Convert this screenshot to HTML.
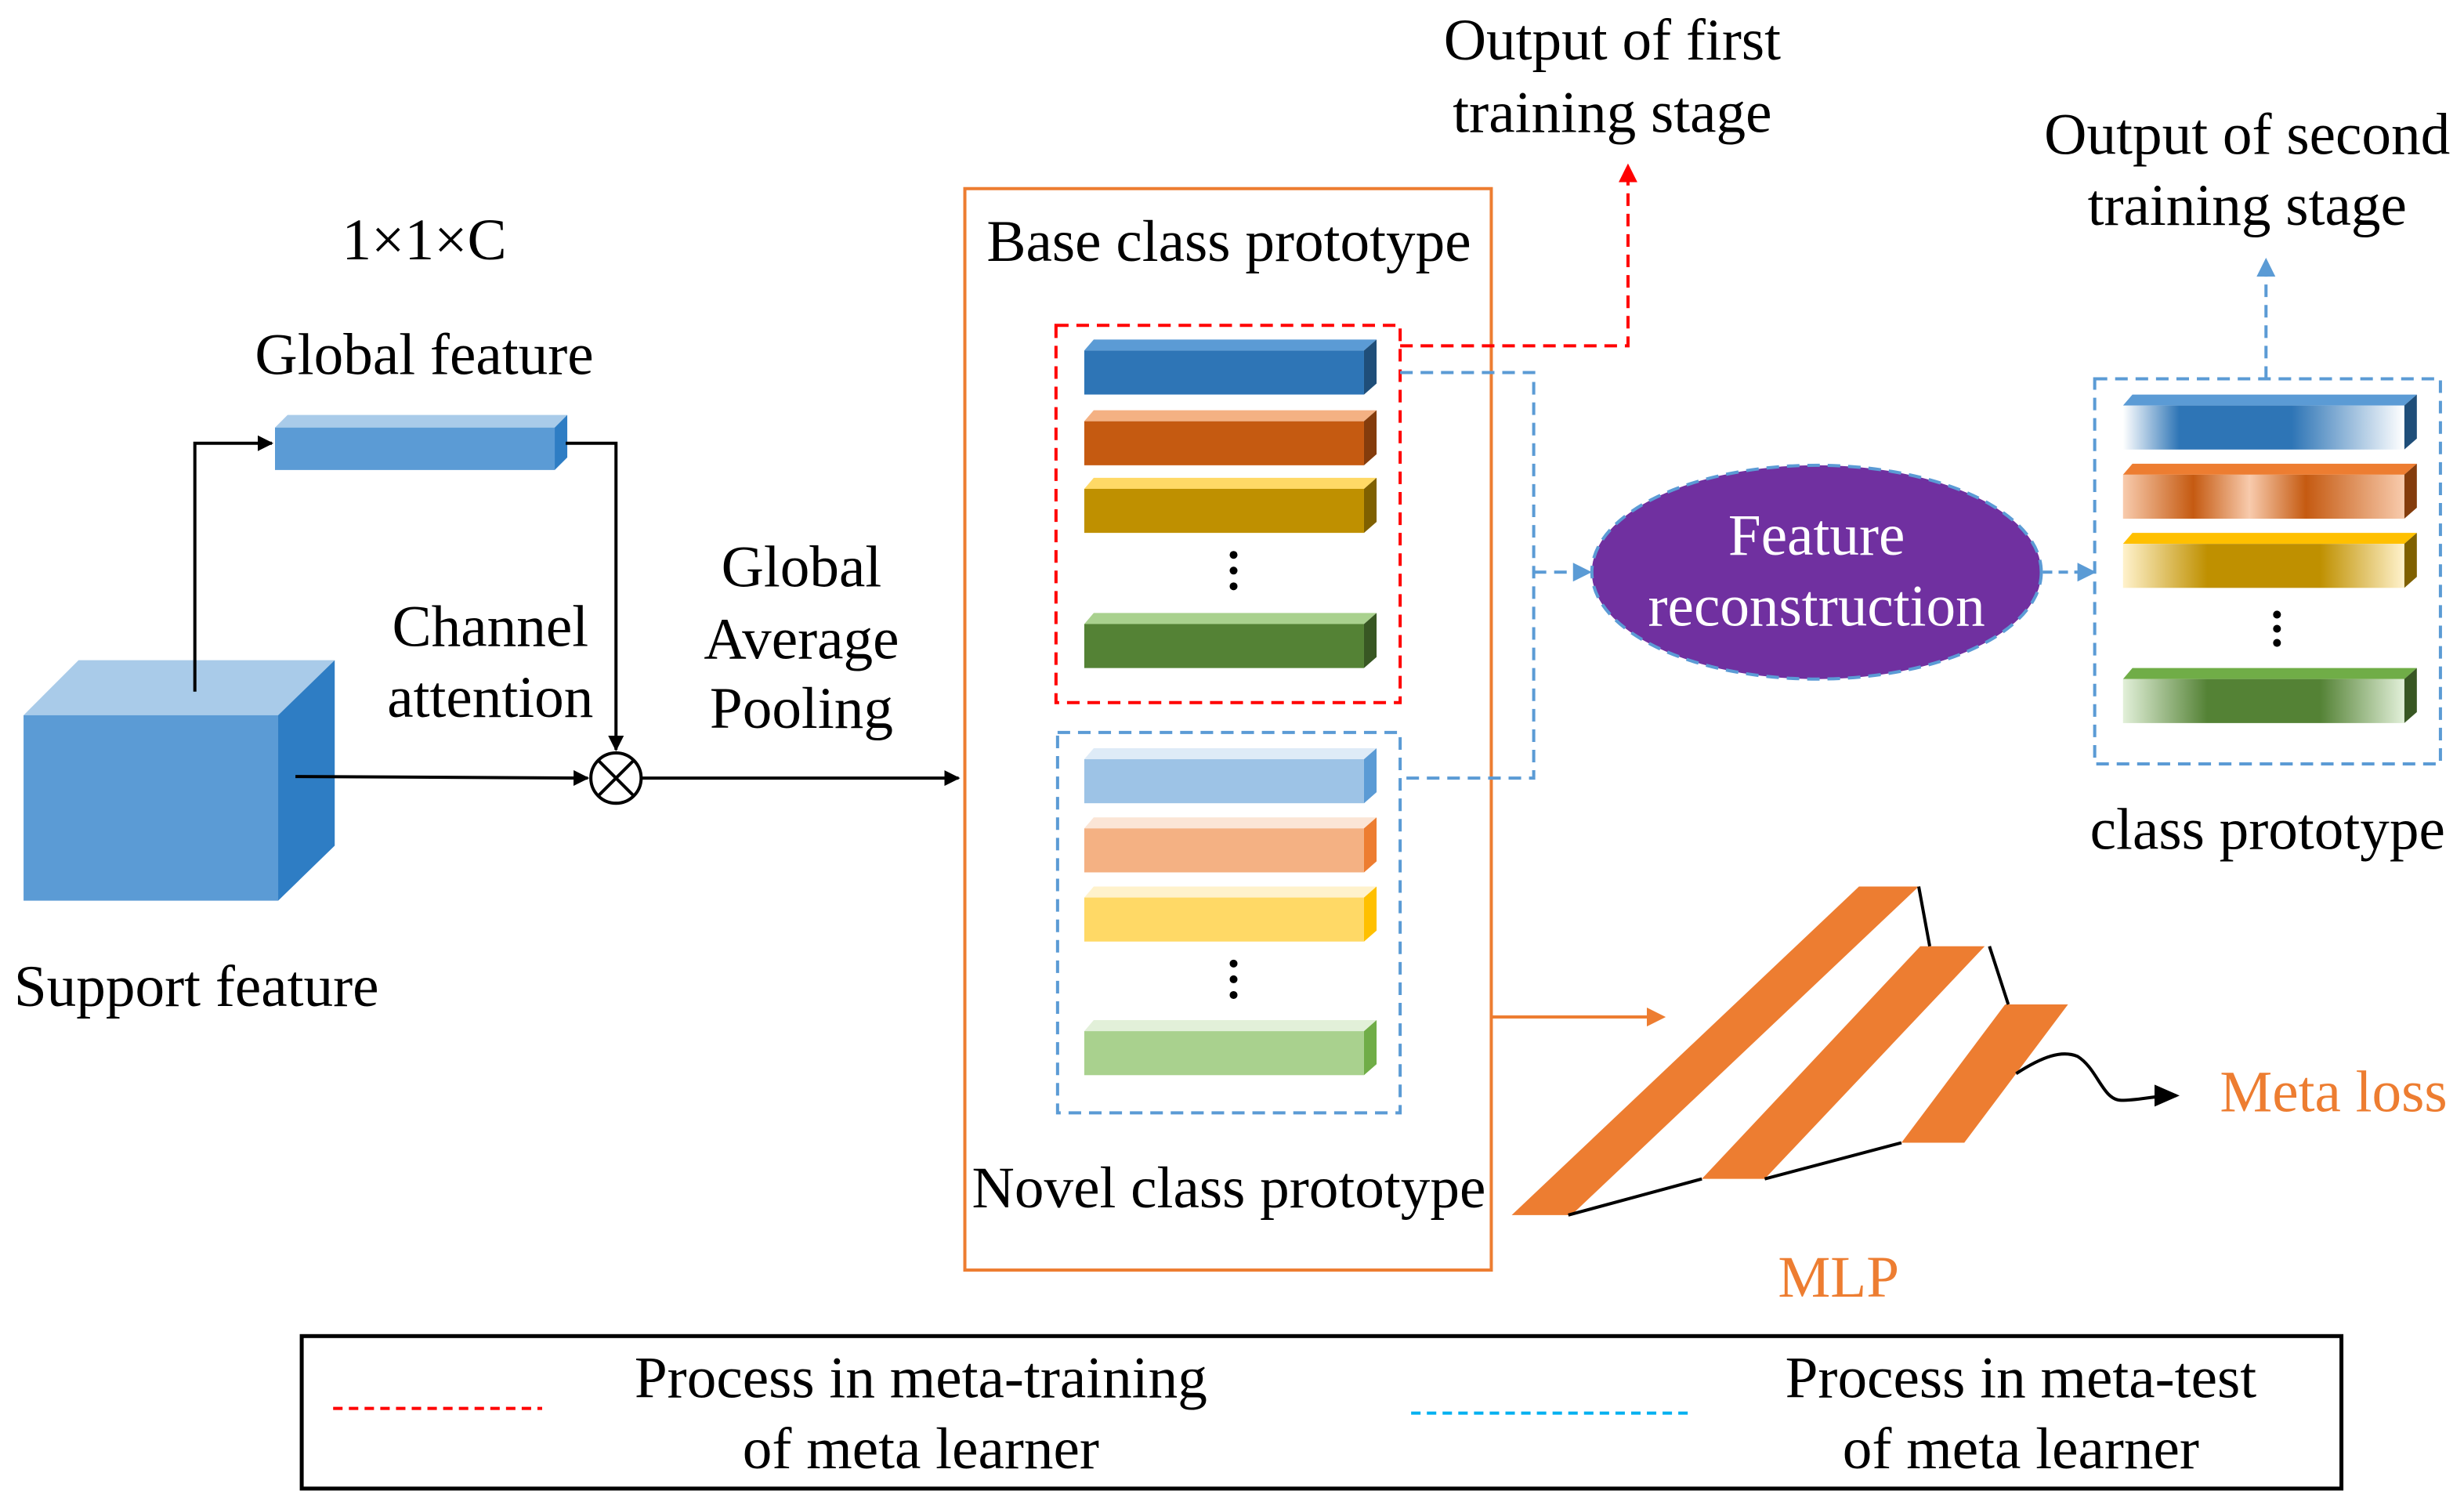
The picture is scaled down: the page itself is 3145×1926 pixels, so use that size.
<!DOCTYPE html>
<html><head><meta charset="utf-8"><style>
html,body{margin:0;padding:0;background:#fff;}
svg{display:block;}
text{font-family:"Liberation Serif",serif;font-size:37.5px;fill:#000;text-anchor:middle;}
</style></head><body>
<svg width="3145" height="1926" viewBox="0 0 1568 960" preserveAspectRatio="none" xmlns="http://www.w3.org/2000/svg">
<defs>
<marker id="ab" markerWidth="10" markerHeight="10" refX="9" refY="5" orient="auto" markerUnits="userSpaceOnUse"><path d="M0,0 L10,5 L0,10 z" fill="#000"/></marker>
<marker id="ar" markerWidth="12" markerHeight="12" refX="10" refY="6" orient="auto" markerUnits="userSpaceOnUse"><path d="M0,0 L12,6 L0,12 z" fill="#ff0000"/></marker>
<marker id="abl" markerWidth="12" markerHeight="12" refX="10" refY="6" orient="auto" markerUnits="userSpaceOnUse"><path d="M0,0 L12,6 L0,12 z" fill="#5b9bd5"/></marker>
<marker id="ao" markerWidth="12" markerHeight="12" refX="10" refY="6" orient="auto" markerUnits="userSpaceOnUse"><path d="M0,0 L12,6 L0,12 z" fill="#ed7d31"/></marker>
<marker id="ak" markerWidth="16" markerHeight="14" refX="14" refY="7" orient="auto" markerUnits="userSpaceOnUse"><path d="M0,0 L16,7 L0,14 z" fill="#000"/></marker>
<linearGradient id="g1" x1="0" x2="1"><stop offset="0" stop-color="#fff"/><stop offset=".2" stop-color="#2e75b6"/><stop offset=".6" stop-color="#2e75b6"/><stop offset="1" stop-color="#fff"/></linearGradient>
<linearGradient id="g2" x1="0" x2="1"><stop offset="0" stop-color="#f8cbad"/><stop offset=".25" stop-color="#c55a11"/><stop offset=".45" stop-color="#f8cbad"/><stop offset=".65" stop-color="#c55a11"/><stop offset="1" stop-color="#f8cbad"/></linearGradient>
<linearGradient id="g3" x1="0" x2="1"><stop offset="0" stop-color="#fff2cc"/><stop offset=".3" stop-color="#bf9000"/><stop offset=".7" stop-color="#bf9000"/><stop offset="1" stop-color="#fff2cc"/></linearGradient>
<linearGradient id="g4" x1="0" x2="1"><stop offset="0" stop-color="#e2f0d9"/><stop offset=".3" stop-color="#548235"/><stop offset=".7" stop-color="#548235"/><stop offset="1" stop-color="#e2f0d9"/></linearGradient>
</defs>

<polygon points="15,455 50,420 213,420 177,455" fill="#a9cbe9"/>
<polygon points="177,455 213,420 213,538 177,573" fill="#2e7dc4"/>
<rect x="15" y="455" width="162" height="118" fill="#5b9bd5"/>
<text x="125" y="640">Support feature</text>

<polygon points="175,272 183,264 361,264 353,272" fill="#a9cbe9"/>
<polygon points="353,272 361,264 361,291 353,299" fill="#2e7dc4"/>
<rect x="175" y="272" width="178" height="27" fill="#5b9bd5"/>
<text x="270" y="165">1×1×C</text>
<text x="270" y="238">Global feature</text>

<path d="M124,440 V282 H173" fill="none" stroke="#000" stroke-width="2" marker-end="url(#ab)"/>
<path d="M360,282 H392 V477" fill="none" stroke="#000" stroke-width="2" marker-end="url(#ab)"/>
<circle cx="392" cy="495" r="16" fill="#fff" stroke="#000" stroke-width="2"/>
<path d="M381,484 L403,506 M403,484 L381,506" stroke="#000" stroke-width="2"/>
<path d="M188,494 L374,495" stroke="#000" stroke-width="2" marker-end="url(#ab)"/>
<path d="M408,495 L610,495" stroke="#000" stroke-width="2" marker-end="url(#ab)"/>
<text x="312" y="411">Channel</text>
<text x="312" y="456">attention</text>
<text x="510" y="373">Global</text>
<text x="510" y="419">Average</text>
<text x="510" y="463">Pooling</text>

<rect x="614" y="120" width="335" height="688" fill="none" stroke="#ed7d31" stroke-width="2"/>
<text x="782" y="166">Base class prototype</text>
<text x="782" y="768">Novel class prototype</text>

<rect x="672" y="207" width="219" height="240" fill="none" stroke="#ff0000" stroke-width="2" stroke-dasharray="8,5"/>
<g>
<polygon points="690,223 696,216 876,216 868,223" fill="#5b9bd5"/><polygon points="868,223 876,216 876,244 868,251" fill="#1f4e79"/><rect x="690" y="223" width="178" height="28" fill="#2e75b6"/>
<polygon points="690,268 696,261 876,261 868,268" fill="#f4b183"/><polygon points="868,268 876,261 876,289 868,296" fill="#843c0c"/><rect x="690" y="268" width="178" height="28" fill="#c55a11"/>
<polygon points="690,311 696,304 876,304 868,311" fill="#ffd966"/><polygon points="868,311 876,304 876,332 868,339" fill="#7f6000"/><rect x="690" y="311" width="178" height="28" fill="#bf9000"/>
<polygon points="690,397 696,390 876,390 868,397" fill="#a9d18e"/><polygon points="868,397 876,390 876,418 868,425" fill="#385723"/><rect x="690" y="397" width="178" height="28" fill="#548235"/>
<circle cx="785" cy="353" r="2.5"/><circle cx="785" cy="363" r="2.5"/><circle cx="785" cy="373" r="2.5"/>
</g>
<rect x="673" y="466" width="218" height="242" fill="none" stroke="#5b9bd5" stroke-width="2" stroke-dasharray="8,5"/>
<g>
<polygon points="690,483 696,476 876,476 868,483" fill="#deebf7"/><polygon points="868,483 876,476 876,504 868,511" fill="#5b9bd5"/><rect x="690" y="483" width="178" height="28" fill="#9dc3e6"/>
<polygon points="690,527 696,520 876,520 868,527" fill="#fbe5d6"/><polygon points="868,527 876,520 876,548 868,555" fill="#ed7d31"/><rect x="690" y="527" width="178" height="28" fill="#f4b183"/>
<polygon points="690,571 696,564 876,564 868,571" fill="#fff2cc"/><polygon points="868,571 876,564 876,592 868,599" fill="#ffc000"/><rect x="690" y="571" width="178" height="28" fill="#ffd966"/>
<polygon points="690,656 696,649 876,649 868,656" fill="#e2f0d9"/><polygon points="868,656 876,649 876,677 868,684" fill="#70ad47"/><rect x="690" y="656" width="178" height="28" fill="#a9d18e"/>
<circle cx="785" cy="613" r="2.5"/><circle cx="785" cy="623" r="2.5"/><circle cx="785" cy="633" r="2.5"/>
</g>

<path d="M891,220 H1036 V106" fill="none" stroke="#ff0000" stroke-width="2" stroke-dasharray="8,5" marker-end="url(#ar)"/>
<text x="1026" y="38">Output of first</text>
<text x="1026" y="84">training stage</text>

<path d="M891,237 H976 V495 H891" fill="none" stroke="#5b9bd5" stroke-width="2" stroke-dasharray="8,5"/>
<path d="M976,364 H1011" fill="none" stroke="#5b9bd5" stroke-width="2" stroke-dasharray="8,5" marker-end="url(#abl)"/>
<ellipse cx="1156" cy="364" rx="143" ry="68" fill="#7030a0" stroke="#5b9bd5" stroke-width="2" stroke-dasharray="8,5"/>
<text x="1156" y="353" style="fill:#fff">Feature</text>
<text x="1156" y="398" style="fill:#fff">reconstruction</text>
<path d="M1300,364 H1332" fill="none" stroke="#5b9bd5" stroke-width="2" stroke-dasharray="6,4" marker-end="url(#abl)"/>

<rect x="1333" y="241" width="220" height="245" fill="none" stroke="#5b9bd5" stroke-width="2" stroke-dasharray="8,5"/>
<g>
<polygon points="1351,258 1357,251 1538,251 1530,258" fill="#5b9bd5"/><polygon points="1530,258 1538,251 1538,279 1530,286" fill="#1f4e79"/><rect x="1351" y="258" width="179" height="28" fill="url(#g1)"/>
<polygon points="1351,302 1357,295 1538,295 1530,302" fill="#ed7d31"/><polygon points="1530,302 1538,295 1538,323 1530,330" fill="#843c0c"/><rect x="1351" y="302" width="179" height="28" fill="url(#g2)"/>
<polygon points="1351,346 1357,339 1538,339 1530,346" fill="#ffc000"/><polygon points="1530,346 1538,339 1538,367 1530,374" fill="#7f6000"/><rect x="1351" y="346" width="179" height="28" fill="url(#g3)"/>
<polygon points="1351,432 1357,425 1538,425 1530,432" fill="#70ad47"/><polygon points="1530,432 1538,425 1538,453 1530,460" fill="#385723"/><rect x="1351" y="432" width="179" height="28" fill="url(#g4)"/>
<circle cx="1449" cy="391" r="2.5"/><circle cx="1449" cy="400" r="2.5"/><circle cx="1449" cy="409" r="2.5"/>
</g>
<path d="M1442,241 V166" fill="none" stroke="#5b9bd5" stroke-width="2" stroke-dasharray="8,5" marker-end="url(#abl)"/>
<text x="1430" y="98">Output of second</text>
<text x="1430" y="143">training stage</text>
<text x="1443" y="540">class prototype</text>

<path d="M949,647 H1058" stroke="#ed7d31" stroke-width="2" marker-end="url(#ao)"/>
<polygon points="962,773 1000,773 1221,564 1183,564" fill="#ed7d31"/>
<polygon points="1083,750 1123,750 1263,602 1222,602" fill="#ed7d31"/>
<polygon points="1210,727 1250,727 1316,639 1276,639" fill="#ed7d31"/>
<path d="M998,773 L1083,750 M1123,750 L1210,727 M1221,564 L1228,602 M1266,602 L1278,639" stroke="#000" stroke-width="2" fill="none"/>
<path d="M1283,683 C1300,672 1312,668 1322,672 C1335,680 1338,700 1350,700 C1362,700 1370,697 1385,697" stroke="#000" stroke-width="2" fill="none" marker-end="url(#ak)"/>
<text x="1485" y="707" style="fill:#ed7d31">Meta loss</text>
<text x="1170" y="825" style="fill:#ed7d31">MLP</text>

<rect x="192" y="850" width="1298" height="97" fill="none" stroke="#000" stroke-width="2.5"/>
<path d="M212,896 H345" stroke="#ff0000" stroke-width="2" stroke-dasharray="6,4"/>
<text x="586" y="889">Process in meta-training</text>
<text x="586" y="934">of meta learner</text>
<path d="M898,899 H1078" stroke="#00b0f0" stroke-width="2" stroke-dasharray="6,4"/>
<text x="1286" y="889">Process in meta-test</text>
<text x="1286" y="934">of meta learner</text>
</svg>
</body></html>
